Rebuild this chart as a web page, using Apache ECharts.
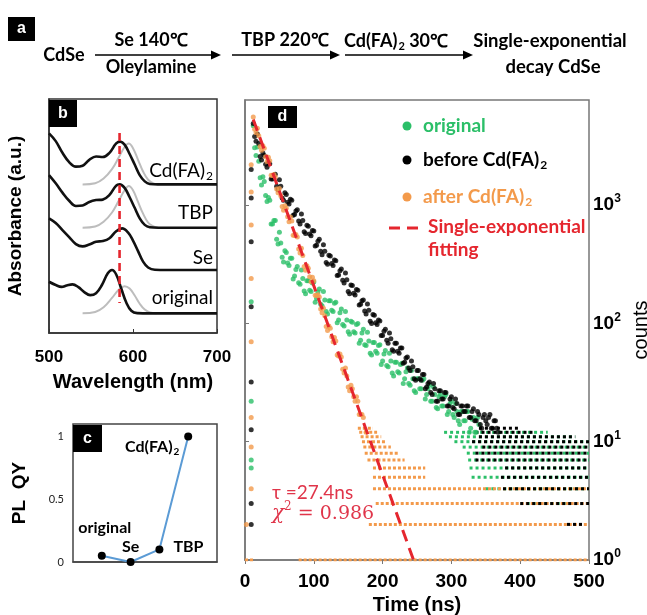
<!DOCTYPE html>
<html><head><meta charset="utf-8">
<script src="https://cdn.jsdelivr.net/npm/echarts@6/dist/echarts.min.js"></script>
<style>html,body{margin:0;padding:0;background:#fff}#c{width:647px;height:615px}</style>
</head><body><div id="c"></div>
<script>
// ---------- Panel b: absorbance (black) and PL (gray) spectra, stacked ----------
const absCdFA = [[500,0.853],[508,0.82],[516,0.77],[524,0.73],[532,0.711],[540,0.715],[548,0.74],[556,0.754],[564,0.752],[572,0.77],[580,0.81],[585,0.818],[590,0.805],[596,0.765],[602,0.72],[608,0.675],[614,0.648],[620,0.637],[630,0.635],[660,0.635],[700,0.635]];
const absTBP = [[500,0.675],[508,0.64],[516,0.60],[524,0.565],[532,0.543],[540,0.545],[548,0.56],[556,0.568],[564,0.57],[572,0.59],[580,0.63],[584,0.635],[590,0.62],[596,0.58],[602,0.535],[608,0.49],[614,0.462],[620,0.452],[630,0.45],[660,0.45],[700,0.45]];
const absSe = [[500,0.49],[508,0.47],[516,0.44],[524,0.41],[532,0.38],[540,0.37],[548,0.378],[556,0.39],[564,0.393],[572,0.405],[580,0.435],[587,0.447],[594,0.43],[600,0.395],[606,0.35],[612,0.305],[618,0.28],[626,0.27],[640,0.269],[670,0.269],[700,0.269]];
const absOriginal = [[500,0.219],[508,0.205],[515,0.197],[521,0.203],[528,0.208],[535,0.196],[542,0.175],[549,0.162],[556,0.17],[563,0.205],[570,0.255],[575,0.269],[580,0.25],[586,0.19],[592,0.13],[598,0.095],[605,0.085],[620,0.084],[660,0.084],[700,0.084]];
const plCdFA = [[540,0.635],[555,0.64],[565,0.66],[575,0.70],[583,0.75],[590,0.795],[595,0.81],[600,0.79],[606,0.74],[612,0.69],[618,0.655],[625,0.638],[630,0.635]];
const plTBP = [[540,0.45],[555,0.455],[565,0.475],[575,0.515],[583,0.565],[590,0.61],[595,0.628],[600,0.61],[606,0.56],[612,0.51],[618,0.472],[625,0.455],[630,0.45]];
const plOriginal = [[540,0.084],[555,0.09],[565,0.11],[575,0.15],[583,0.185],[590,0.2],[596,0.19],[602,0.16],[608,0.125],[614,0.1],[620,0.088],[628,0.084]];
const peakMarker = [[584,0.855],[584,0.128]];
const bTicks = [500, 600, 700];

// ---------- Panel c: PL QY ----------
const qyCategories = ['original', 'Se', 'TBP', 'Cd(FA)2'];
const qyValues = [0.05, 0, 0.1, 1.0];

// ---------- Panel d: time-resolved PL decay (counts vs ns) ----------
const decayOriginal = [[12,4677],[16,2630],[20,2344],[24,1479],[28,1585],[32,1072],[36,1096],[40,692],[44,741],[48,468],[52,479],[56,331],[60,398],[64,309],[68,355],[72,251],[76,302],[80,214],[84,240],[88,178],[92,229],[96,186],[100,224],[104,162],[108,195],[112,141],[116,158],[120,120],[124,155],[128,126],[132,151],[136,107],[140,132],[144,95],[148,107],[152,81],[156,102],[160,83],[164,100],[168,72],[172,89],[176,65],[180,71],[184,54],[188,69],[192,56],[196,66],[200,48],[204,59],[208,43],[212,48],[216,36],[220,47],[224,38],[228,46],[232,34],[236,42],[240,30],[244,34],[248,26],[252,34],[256,28],[260,34],[264,25],[268,30],[272,22],[276,25],[280,19],[284,25],[288,20],[292,25],[296,18],[300,22],[304,16],[308,18],[312,14],[316,18],[320,15],[324,18],[328,13],[332,16],[336,12],[340,14],
  [14,3055],[18,3090],[22,1698],[26,1738],[30,1202],[34,1161],[38,692],[42,741],[46,513],[50,589],[54,363],[58,412],[62,324],[66,355],[70,237],[74,285],[78,221],[82,282],[86,188],[90,229],[94,191],[98,219],[102,151],[106,184],[110,145],[114,186],[118,126],[122,155],[126,129],[130,148],[134,101],[138,123],[142,98],[146,126],[150,85],[154,104],[158,85],[162,98],[166,68],[170,83],[174,66],[178,84],[182,56],[186,69],[190,58],[194,65],[198,45],[202,55],[206,44],[210,56],[214,38],[218,47],[222,39],[226,45],[230,31],[234,39],[238,31],[242,40],[246,27],[250,34],[254,28],[258,33],[262,23],[266,28],[270,22],[274,29],[278,19.5],[282,24],[286,20],[290,24],[294,17],[298,21],[302,17],[306,21],[310,15],[314,18],[318,15],[322,18],[326,12],[330,15.5],[334,12],[338,16],
  [9,152],[9,22],[9,7],[9,6]];
const decayBefore = [[12,4900],[16,3470],[20,3310],[24,2400],[28,2630],[32,2090],[36,2240],[40,1660],[44,1820],[48,1350],[52,1445],[56,1096],[60,1230],[64,1023],[68,1096],[72,832],[76,912],[80,692],[84,741],[88,575],[92,661],[96,550],[100,603],[104,457],[108,513],[112,380],[116,407],[120,316],[124,372],[128,309],[132,339],[136,257],[140,288],[144,219],[148,234],[152,178],[156,209],[160,174],[164,191],[168,145],[172,158],[176,120],[180,129],[184,100],[188,117],[192,98],[196,105],[200,79],[204,89],[208,68],[212,74],[216,58],[220,68],[224,56],[228,62],[232,47],[236,52],[240,40],[244,43],[248,33],[252,40],[256,33],[260,37],[264,29],[268,32],[272,25],[276,28],[280,22],[284,27],[288,23],[292,26],[296,20],[300,24],[304,19],[308,21],[312,17],[316,20],[320,18],[324,20],[328,16],[332,19],[336,15],[340,17],[344,13],[348,17],[352,14],[356,17],[360,13],[364,15],[368,12],
  [14,3802],[18,3981],[22,2570],[26,2754],[30,2213],[34,2291],[38,1660],[42,1778],[46,1445],[50,1641],[54,1148],[58,1274],[62,1059],[66,1122],[70,822],[74,891],[78,733],[82,841],[86,596],[90,676],[94,569],[98,610],[102,452],[106,495],[110,407],[114,462],[118,327],[122,376],[126,320],[130,343],[134,254],[138,279],[142,232],[146,266],[150,186],[154,211],[158,180],[162,193],[166,143],[170,155],[174,127],[178,146],[182,104],[186,119],[190,101],[194,107],[198,79],[202,86],[206,72],[210,83],[214,60],[218,68],[222,58],[226,62],[230,46],[234,51],[238,42],[242,48],[246,34],[250,40],[254,34],[258,37],[262,28],[266,31],[270,26],[274,31],[278,22],[282,27],[286,23],[290,26],[294,20],[298,23],[302,19.5],[306,23],[310,17],[314,20],[318,18],[322,20],[326,16],[330,18],[334,15],[338,18],[342,14],[346,16],[350,15],[354,16],[358,13],[362,15],[366,13],
  [9,2000],[9,1150],[9,490],[9,138],[9,32],[9,12.6],[9,3],[9,2]];
const decayAfter = [[12,5550],[16,4080],[20,3860],[24,2910],[28,3020],[32,2330],[36,2370],[40,1780],[44,1730],[48,1270],[52,1200],[56,906],[60,940],[64,724],[68,735],[72,553],[76,537],[80,394],[84,374],[88,281],[92,292],[96,225],[100,229],[104,172],[108,167],[112,123],[116,116],[120,87],[124,91],[128,70],[132,71],[136,53],[140,52],[144,38],[148,36],[152,27],[156,28],[160,22],[164,22],[168,17],[172,16],[176,12],
  [14,4385],[18,4457],[22,3126],[26,3177],[30,2559],[34,2541],[38,1786],[42,1811],[46,1365],[50,1384],[54,973],[58,989],[62,796],[66,791],[70,555],[74,564],[78,425],[82,431],[86,303],[90,307],[94,248],[98,246],[102,173],[106,175],[110,132],[114,134],[118,94],[122,95],[126,77],[130,76],[134,54],[138,55],[142,41],[146,42],[150,29],[154,30],[158,24],[162,24],[166,17],[170,17],
  [9,2190],[9,1290],[9,680],[9,240],[9,70],[9,16],[9,9],[9,4],[2,2]];
// low-count tails: rows of photon counts at integer levels [count, tStart, tEnd]
const rowsOriginal = [[3,405,470],[4,345,500],[5,325,500],[6,322,500],[7,320,500],[8,318,500],[9,312,500],[10,300,500],[11,292,480],[12,285,440]];
const rowsBefore = [[2,468,492],[3,400,500],[4,375,500],[5,372,500],[6,378,500],[7,335,500],[8,335,500],[9,345,500],[10,330,500],[11,340,480],[12,335,420],[13,340,400]];
const rowsAfter = [[1,0,12],[1,78,500],[2,180,500],[3,190,500],[4,186,500],[5,186,262],[6,186,262],[7,178,232],[8,174,222],[9,172,212],[10,170,204],[11,168,198],[12,166,192],[13,164,186]];
const fitLine = [[12,5300],[245,1]];
const tauText = 'τ =27.4ns';
const chiValue = '0.986';
const dTicks = [0, 100, 200, 300, 400, 500];
const countTicks = [1, 10, 100, 1000];

// ---------- styles ----------
const CAL = 'Lato, "Open Sans", sans-serif';
const ARI = '"Liberation Sans", Arial, sans-serif';
const GREEN = '#2bbf68', BLACK = '#000000', ORANGE = '#f39a4b', RED = '#e5262e';

function txt(x, y, text, o) {
  o = o || {};
  return {type:'text', x:x, y:y, z:50, silent:true, style:{text:text, fill:o.fill||'#000',
    fontSize:o.size||17, fontWeight:o.weight||'bold', fontFamily:o.family||CAL,
    fontStyle:o.style||'normal', align:o.align||'center', verticalAlign:'middle', rich:o.rich}};
}
const subRich = (size, color, weight) => ({
  n:{fontSize:size, fontFamily:CAL, fontWeight:weight||'bold', fill:color, lineHeight:size+4, verticalAlign:'middle'},
  s:{fontSize:Math.round(size*0.62), fontFamily:CAL, fontWeight:weight||'bold', fill:color, lineHeight:size+4, verticalAlign:'bottom', padding:[0,0,0,1]}
});
function arrow(x1, x2, y) {
  return [
    {type:'line', silent:true, shape:{x1:x1, y1:y, x2:x2-8, y2:y}, style:{stroke:'#000', lineWidth:1.6}},
    {type:'polygon', silent:true, shape:{points:[[x2-10,y-4.5],[x2,y],[x2-10,y+4.5]]}, style:{fill:'#000'}}
  ];
}
function tag(x, y, w, h, letter) {
  return [
    {type:'rect', silent:true, z:40, shape:{x:x, y:y, width:w, height:h}, style:{fill:'#000'}},
    txt(x + w/2, y + h/2, letter, {fill:'#fff', size:16, weight:'bold', family:ARI})
  ];
}

// ---------- series ----------
const series = [];
[plCdFA, plTBP, plOriginal].forEach(d => series.push({type:'line', xAxisIndex:0, yAxisIndex:0, data:d, smooth:0.4, symbol:'none', lineStyle:{color:'#bdbdbd', width:2}, z:2}));
[absCdFA, absTBP, absSe, absOriginal].forEach(d => series.push({type:'line', xAxisIndex:0, yAxisIndex:0, data:d, smooth:0.4, symbol:'none', lineStyle:{color:'#111', width:2.6}, z:3}));
series.push({type:'line', xAxisIndex:0, yAxisIndex:0, data:peakMarker, symbol:'none', lineStyle:{color:RED, width:2.6, type:[8,5]}, z:4});
series.push({type:'line', xAxisIndex:1, yAxisIndex:1, data:qyValues, symbol:'circle', symbolSize:8,
  itemStyle:{color:'#000'}, lineStyle:{color:'#5b9bd5', width:2}, z:3,
  label:{show:true, position:'inside', color:'#000', fontFamily:CAL, fontSize:16, fontWeight:'bold',
    formatter: p => p.name === 'Cd(FA)2' ? '{n|Cd(FA)}{s|2}' : p.name, rich: subRich(16, '#000')},
  labelLayout: p => {
    const off = [[3,-28],[0,-15],[29,-3],[-36,10]][p.dataIndex];
    return {x: p.rect.x + p.rect.width/2 + off[0], y: p.rect.y + p.rect.height/2 + off[1], align:'center', verticalAlign:'middle'};
  }
});
function rowSeries(rows, color, dash, off, z) {
  rows.forEach(r => series.push({type:'line', xAxisIndex:2, yAxisIndex:2, data:[[r[1], r[0]],[r[2], r[0]]],
    symbol:'none', silent:true, z:z, lineStyle:{color:color, width:3, type:dash, dashOffset:off, cap:'butt'}}));
}
rowSeries(rowsOriginal, GREEN, [3,3], 3, 2);
rowSeries(rowsAfter, ORANGE, [3,2], 0, 3);
rowSeries(rowsBefore, BLACK, [3,3], 0, 4);
series.push({type:'scatter', xAxisIndex:2, yAxisIndex:2, data:decayOriginal, symbolSize:5, itemStyle:{color:GREEN}, z:5});
series.push({type:'scatter', xAxisIndex:2, yAxisIndex:2, data:decayBefore, symbolSize:5, itemStyle:{color:BLACK}, z:5});
series.push({type:'scatter', xAxisIndex:2, yAxisIndex:2, data:decayAfter, symbolSize:5, itemStyle:{color:ORANGE}, z:6});
series.push({type:'line', xAxisIndex:2, yAxisIndex:2, data:fitLine, symbol:'none', z:8, lineStyle:{color:RED, width:3, type:[12,7]}});

// ---------- graphic ----------
const g = [];
g.push(...tag(8, 17, 27, 24, 'a'));
g.push(txt(64, 55, 'CdSe', {size:18}));
g.push(...arrow(95, 221, 55));
g.push(txt(151, 40, 'Se 140℃', {size:18}));
g.push(txt(151, 67, 'Oleylamine', {size:18}));
g.push(...arrow(232, 340, 55));
g.push(txt(285, 40, 'TBP 220℃', {size:18}));
g.push(...arrow(345, 473, 55));
g.push(txt(396, 41, '{n|Cd(FA)}{s|2}{n| 30℃}', {size:18, rich:subRich(18,'#000')}));
g.push(txt(550, 41, 'Single-exponential', {size:18.5}));
g.push(txt(553, 67, 'decay CdSe', {size:18.5}));
g.push(...tag(49, 100, 28, 27, 'b'));
g.push(...tag(73, 425, 29, 27, 'c'));
g.push(...tag(268, 106, 29, 22, 'd'));
g.push(txt(213, 171, '{n|Cd(FA)}{s|2}', {align:'right', size:19, rich:subRich(19, '#000', 'normal')}));
g.push(txt(213, 213, 'TBP', {align:'right', size:19, weight:'normal'}));
g.push(txt(213, 258, 'Se', {align:'right', size:19, weight:'normal'}));
g.push(txt(213, 298, 'original', {align:'right', size:19, weight:'normal'}));
[[126, GREEN, 'original'], [160, BLACK, 'before Cd(FA)'], [197, ORANGE, 'after Cd(FA)']].forEach((l, i) => {
  g.push({type:'circle', silent:true, z:50, shape:{cx:407, cy:l[0], r:4.5}, style:{fill:l[1]}});
  g.push(txt(423, l[0], i === 0 ? l[2] : '{n|' + l[2] + '}{s|2}', {align:'left', fill:l[1], size:19, rich:subRich(19, l[1])}));
});
g.push({type:'line', silent:true, z:50, shape:{x1:389, y1:228, x2:400, y2:228}, style:{stroke:RED, lineWidth:3}});
g.push({type:'line', silent:true, z:50, shape:{x1:407, y1:228, x2:418, y2:228}, style:{stroke:RED, lineWidth:3}});
g.push(txt(428, 227, 'Single-exponential', {align:'left', fill:RED, size:19}));
g.push(txt(428, 250, 'fitting', {align:'left', fill:RED, size:19}));
g.push(txt(272, 493, tauText, {align:'left', fill:'#e0354a', size:19, weight:'normal'}));
g.push(txt(272, 514, '{i|χ}{s|2}{n| = ' + chiValue + '}', {align:'left', rich:{
  i:{fontSize:20, fontFamily:'"DejaVu Serif", serif', fontStyle:'italic', fill:'#e0354a', lineHeight:26, verticalAlign:'middle'},
  s:{fontSize:12, fontFamily:'"DejaVu Serif", serif', fill:'#e0354a', lineHeight:26, verticalAlign:'top'},
  n:{fontSize:19, fontFamily:'"DejaVu Serif", serif', fill:'#e0354a', lineHeight:26, verticalAlign:'middle'}}}));

const supLabel = v => '{b|10}{s|' + Math.round(Math.log10(v)) + '}';

const option = {
  animation:false,
  backgroundColor:'#fff',
  grid:[
    {left:49, top:99, width:168, height:234, show:true, borderColor:'#333', borderWidth:1.5, backgroundColor:'transparent', outerBoundsMode:'none', containLabel:false},
    {left:73, top:424, width:144, height:138, show:true, borderColor:'#444', borderWidth:1.5, backgroundColor:'transparent', outerBoundsMode:'none', containLabel:false},
    {left:245, top:100, width:344, height:460, show:true, borderColor:'#777', borderWidth:1.5, backgroundColor:'transparent', outerBoundsMode:'none', containLabel:false}
  ],
  xAxis:[
    {type:'value', gridIndex:0, min:500, max:700, interval:100, axisLine:{lineStyle:{color:'#333', width:1.5}},
      axisTick:{inside:true, length:4, lineStyle:{color:'#333'}}, splitLine:{show:false},
      axisLabel:{color:'#000', fontFamily:ARI, fontWeight:'bold', fontSize:17, margin:16, customValues:bTicks},
      name:'Wavelength (nm)', nameLocation:'middle', nameGap:39, nameTextStyle:{color:'#000', fontFamily:ARI, fontWeight:'bold', fontSize:20}},
    {type:'category', gridIndex:1, data:qyCategories, min:-1, max:4, boundaryGap:false,
      axisLine:{lineStyle:{color:'#444', width:1.5}}, axisTick:{show:false}, axisLabel:{show:false}, splitLine:{show:false}},
    {type:'value', gridIndex:2, min:0, max:500, interval:100, axisLine:{lineStyle:{color:'#777', width:1.5}},
      axisTick:{length:4, lineStyle:{color:'#777'}}, splitLine:{show:false},
      axisLabel:{color:'#000', fontFamily:ARI, fontWeight:'bold', fontSize:19, margin:12, customValues:dTicks},
      name:'Time (ns)', nameLocation:'middle', nameGap:33, nameTextStyle:{color:'#000', fontFamily:ARI, fontWeight:'bold', fontSize:20}}
  ],
  yAxis:[
    {type:'value', gridIndex:0, min:0, max:1, axisLine:{lineStyle:{color:'#333', width:1.5}}, axisTick:{show:false}, axisLabel:{show:false}, splitLine:{show:false},
      name:'Absorbance (a.u.)', nameLocation:'middle', nameGap:24, nameTextStyle:{color:'#000', fontFamily:ARI, fontWeight:'bold', fontSize:19}},
    {type:'value', gridIndex:1, min:0, max:1.1, interval:0.5, axisLine:{lineStyle:{color:'#444', width:1.5}},
      axisTick:{length:4, lineStyle:{color:'#444'}}, splitLine:{show:false},
      axisLabel:{color:'#222', fontFamily:CAL, fontSize:11, margin:9, showMaxLabel:false},
      name:'PL  QY', nameLocation:'middle', nameGap:44, nameTextStyle:{color:'#000', fontFamily:ARI, fontWeight:'bold', fontSize:19}},
    {type:'log', gridIndex:2, min:1, max:7730, logBase:10, position:'right',
      axisLine:{show:true, lineStyle:{color:'#777', width:1.5}},
      axisTick:{show:true, length:4, lineStyle:{color:'#777'}, customValues:countTicks}, splitLine:{show:false}, minorTick:{show:false},
      axisLabel:{customValues:countTicks, margin:4, formatter:supLabel, rich:{
        b:{fontFamily:ARI, fontSize:19, fontWeight:'bold', color:'#000', lineHeight:24, verticalAlign:'middle'},
        s:{fontFamily:ARI, fontSize:12, fontWeight:'bold', color:'#000', lineHeight:24, verticalAlign:'top'}}},
      name:'counts', nameLocation:'middle', nameGap:37, nameTextStyle:{color:'#000', fontFamily:ARI, fontSize:20}}
  ],
  series: series,
  graphic: g
};
const chart = echarts.init(document.getElementById('c'), null, {renderer:'canvas'});
chart.setOption(option);
</script></body></html>
